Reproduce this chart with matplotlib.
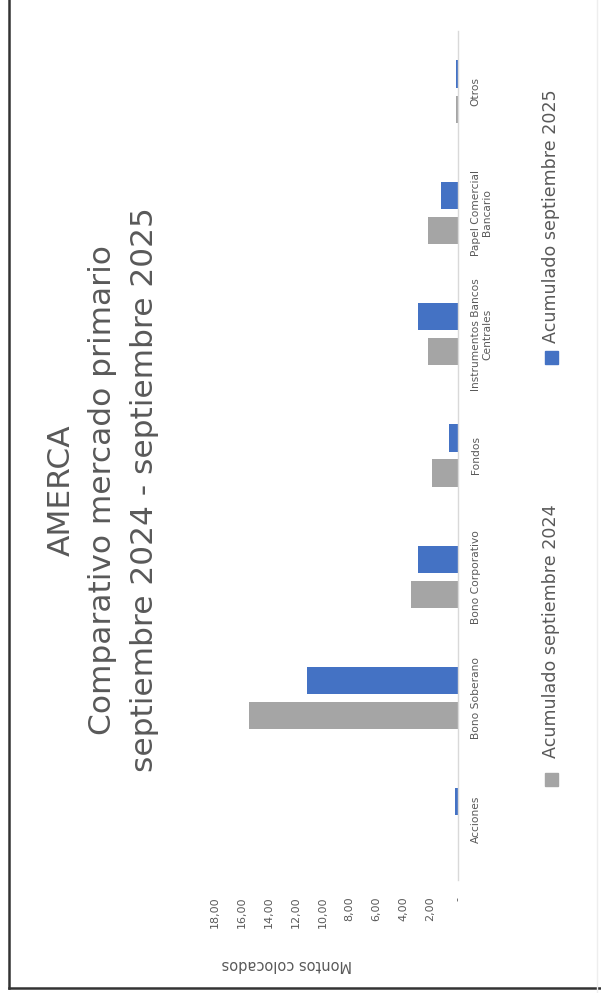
import matplotlib
matplotlib.use("Agg")
import matplotlib.pyplot as plt
from matplotlib.lines import Line2D
from matplotlib.patches import Rectangle
from matplotlib.ticker import FuncFormatter

# data
categories = ["Acciones", "Bono Soberano", "Bono Corporativo", "Fondos",
              "Instrumentos Bancos\nCentrales", "Papel Comercial\nBancario", "Otros"]
acum_2024 = [0.0, 15.44, 3.47, 1.89, 2.16, 2.16, 0.08]
acum_2025 = [0.15, 11.17, 2.90, 0.65, 2.95, 1.22, 0.08]
value_ticks = [0, 2, 4, 6, 8, 10, 12, 14, 16, 18]

GREY = "#A5A5A5"
BLUE = "#4472C4"
TXT = "#595959"

W, H = 601, 993
fig = plt.figure(figsize=(W / 100, H / 100), dpi=100)


def fx(px):
    return px / W


def fy(py):
    return 1 - py / H


# chart is rotated 90 degrees: values run leftwards, categories run upwards
left, right, top, bottom = 214.5, 457.5, 31, 880
ax = fig.add_axes([fx(left), fy(bottom), fx(right) - fx(left), fy(top) - fy(bottom)])

pos = list(range(len(categories)))
ax.barh([p - 0.145 for p in pos], acum_2024, height=0.225, color=GREY)
ax.barh([p + 0.145 for p in pos], acum_2025, height=0.225, color=BLUE)

ax.set_xlim(18, 0)
ax.set_ylim(-0.5, len(categories) - 0.5)

for s in ["top", "bottom", "left"]:
    ax.spines[s].set_visible(False)
ax.spines["right"].set_color("#D9D9D9")
ax.spines["right"].set_linewidth(1)

ax.yaxis.tick_right()
ax.set_yticks(pos)
ax.set_yticklabels(categories)
ax.tick_params(axis="y", length=0, pad=9.5, labelsize=7.7, labelcolor=TXT)
for lab in ax.get_yticklabels():
    lab.set_rotation(90)
    lab.set_ha("left")
    lab.set_va("center")
    lab.set_multialignment("center")

ax.set_xticks(value_ticks)
ax.xaxis.set_major_formatter(FuncFormatter(
    lambda v, p: "-" if v == 0 else f"{v:.2f}".replace(".", ",")))
ax.tick_params(axis="x", length=0, pad=12, labelsize=8, labelcolor=TXT)
for lab in ax.get_xticklabels():
    lab.set_rotation(90)
    lab.set_ha("center")
    lab.set_va("top")

# axis title (upside down after rotation)
fig.text(fx(287), fy(965), "Montos colocados", rotation=180, ha="center", va="center",
         fontsize=10.5, color=TXT)

# title
fig.text(fx(103), fy(490), "AMERCA\nComparativo mercado primario\nseptiembre 2024 - septiembre 2025",
         rotation=90, ha="center", va="center", multialignment="center",
         fontsize=22.5, color=TXT, linespacing=1.55)

# legend
fig.patches.append(Rectangle((fx(545), fy(786)), fx(13), 13 / H, color=GREY,
                             transform=fig.transFigure, figure=fig))
fig.text(fx(551.5), fy(758), "Acumulado septiembre 2024", rotation=90, ha="center", va="bottom",
         fontsize=12.6, color=TXT)
fig.patches.append(Rectangle((fx(545), fy(364)), fx(13), 13 / H, color=BLUE,
                             transform=fig.transFigure, figure=fig))
fig.text(fx(551.5), fy(343), "Acumulado septiembre 2025", rotation=90, ha="center", va="bottom",
         fontsize=12.6, color=TXT)

# frame
fig.add_artist(Line2D([fx(9), fx(9)], [fy(988), 1], color="#333333", lw=1.8, transform=fig.transFigure))
fig.add_artist(Line2D([fx(9), 1], [fy(988), fy(988)], color="#333333", lw=1.8, transform=fig.transFigure))
fig.add_artist(Line2D([fx(597), fx(597)], [0, 1], color="#EEEEEE", lw=1, transform=fig.transFigure))

fig.savefig("out.png", dpi=100)
